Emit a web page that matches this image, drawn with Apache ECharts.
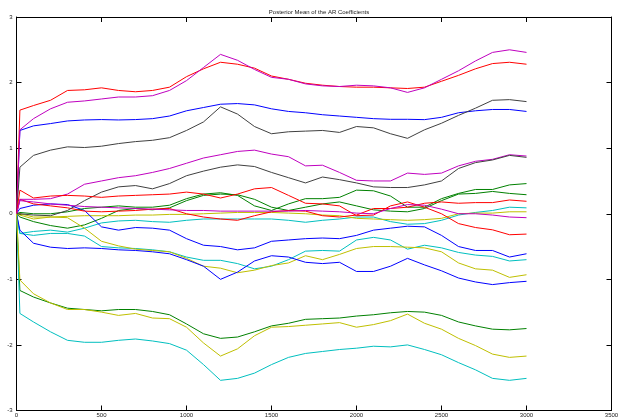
<!DOCTYPE html>
<html><head><meta charset="utf-8">
<script src="https://cdn.jsdelivr.net/npm/echarts@6/dist/echarts.min.js"></script>
<style>html,body{margin:0;padding:0;background:#fff}#c{width:620px;height:419px}</style>
</head><body><div id="c"></div>
<script>
const T = [0,20,100,200,300,400,500,600,700,800,900,1000,1100,1200,1300,1400,1500,1600,1700,1800,1900,2000,2100,2200,2300,2400,2500,2600,2700,2800,2900,3000];
const xTicks = [0,500,1000,1500,2000,2500,3000,3500];
const yTicks = [-3,-2,-1,0,1,2,3];
const title = "Posterior Mean of the AR Coefficients";

const blueTop   = [0,1.27,1.34,1.375,1.415,1.43,1.436,1.43,1.436,1.45,1.49,1.57,1.62,1.67,1.68,1.66,1.60,1.56,1.54,1.51,1.49,1.47,1.45,1.44,1.44,1.435,1.47,1.54,1.57,1.59,1.59,1.56];
const greenA    = [0,-0.05,-0.12,-0.18,-0.22,-0.17,-0.07,0.05,0.08,0.06,0.09,0.20,0.28,0.30,0.29,0.22,0.10,0.05,0.10,0.15,0.18,0.12,0.06,0.04,0.03,0.08,0.20,0.30,0.31,0.34,0.31,0.29];
const redTop    = [0,1.58,1.65,1.73,1.88,1.89,1.92,1.88,1.86,1.88,1.93,2.09,2.21,2.31,2.28,2.22,2.10,2.05,1.99,1.96,1.94,1.93,1.93,1.92,1.91,1.93,2.02,2.11,2.21,2.29,2.31,2.28];
const cyanTop   = [0,-0.30,-0.27,-0.25,-0.28,-0.22,-0.14,-0.11,-0.10,-0.12,-0.13,-0.10,-0.08,-0.08,-0.08,-0.08,-0.08,-0.10,-0.13,-0.10,-0.08,-0.05,-0.05,-0.12,-0.16,-0.15,-0.10,-0.02,0.02,0.05,0.10,0.09];
const magTop    = [0,1.28,1.45,1.60,1.70,1.72,1.75,1.78,1.78,1.80,1.88,2.03,2.23,2.43,2.34,2.20,2.08,2.05,1.98,1.95,1.94,1.96,1.95,1.92,1.85,1.92,2.05,2.18,2.33,2.46,2.50,2.46];
const yelTop    = [0,0.0,-0.05,-0.05,-0.04,-0.03,-0.03,-0.03,-0.02,-0.02,-0.01,-0.01,0.0,0.01,0.02,0.02,0.02,0.01,0.0,-0.02,-0.03,-0.07,-0.08,-0.09,-0.10,-0.09,-0.07,0.0,0.01,0.01,0.03,0.03];
const blackTop  = [0,0.71,0.89,0.97,1.02,1.01,1.03,1.07,1.10,1.12,1.16,1.27,1.40,1.63,1.52,1.33,1.22,1.25,1.26,1.27,1.24,1.33,1.31,1.22,1.15,1.28,1.38,1.50,1.61,1.73,1.74,1.71];
const blueMid   = [0,0.08,0.13,0.15,0.14,0.05,-0.20,-0.25,-0.21,-0.22,-0.25,-0.38,-0.48,-0.50,-0.55,-0.52,-0.42,-0.40,-0.38,-0.37,-0.38,-0.33,-0.25,-0.22,-0.19,-0.20,-0.33,-0.50,-0.56,-0.56,-0.66,-0.61];
const greenB    = [0,0.02,0.0,0.0,0.03,0.08,0.10,0.12,0.10,0.10,0.13,0.23,0.30,0.32,0.28,0.12,0.05,0.15,0.23,0.23,0.25,0.36,0.35,0.27,0.10,0.10,0.23,0.31,0.37,0.37,0.44,0.46];
const redMid    = [0,0.22,0.15,0.12,0.09,0.04,0.03,0.04,0.05,0.07,0.08,0.0,-0.05,-0.08,-0.10,-0.03,0.03,0.05,0.04,-0.03,-0.05,-0.02,0.08,0.08,0.10,0.16,0.18,0.16,0.17,0.17,0.21,0.19];
const cyanMid   = [0,-0.30,-0.33,-0.30,-0.30,-0.34,-0.50,-0.52,-0.53,-0.55,-0.58,-0.66,-0.71,-0.71,-0.76,-0.84,-0.80,-0.70,-0.57,-0.56,-0.57,-0.40,-0.36,-0.40,-0.54,-0.48,-0.52,-0.59,-0.63,-0.65,-0.72,-0.70];
const magMid    = [0,0.22,0.22,0.23,0.30,0.45,0.50,0.55,0.58,0.63,0.69,0.77,0.85,0.90,0.95,0.97,0.91,0.87,0.73,0.74,0.63,0.51,0.50,0.50,0.62,0.60,0.62,0.73,0.80,0.83,0.90,0.88];
const yelMid    = [0,-0.02,-0.08,-0.05,-0.06,-0.22,-0.42,-0.49,-0.54,-0.56,-0.58,-0.68,-0.80,-0.83,-0.90,-0.86,-0.79,-0.75,-0.64,-0.70,-0.62,-0.53,-0.50,-0.50,-0.51,-0.52,-0.58,-0.75,-0.84,-0.86,-0.97,-0.93];
const blackLow  = [0,0.0,-0.02,-0.03,0.05,0.20,0.33,0.41,0.43,0.38,0.46,0.58,0.65,0.71,0.745,0.72,0.63,0.55,0.47,0.56,0.52,0.47,0.41,0.40,0.40,0.44,0.50,0.69,0.78,0.82,0.89,0.86];
const blueLow   = [0,-0.25,-0.45,-0.51,-0.53,-0.52,-0.53,-0.55,-0.56,-0.58,-0.61,-0.70,-0.80,-1.00,-0.89,-0.72,-0.64,-0.66,-0.74,-0.76,-0.74,-0.88,-0.88,-0.80,-0.68,-0.78,-0.87,-0.98,-1.04,-1.08,-1.05,-1.03];
const greenLow  = [0,-1.17,-1.27,-1.36,-1.44,-1.46,-1.48,-1.46,-1.46,-1.49,-1.54,-1.68,-1.83,-1.90,-1.88,-1.80,-1.71,-1.67,-1.61,-1.60,-1.59,-1.56,-1.54,-1.51,-1.49,-1.50,-1.55,-1.65,-1.71,-1.76,-1.77,-1.75];
const redLow    = [0,0.36,0.24,0.27,0.28,0.27,0.25,0.27,0.28,0.29,0.30,0.33,0.30,0.24,0.30,0.38,0.40,0.28,0.16,0.15,0.12,-0.03,-0.02,0.12,0.18,0.10,0.0,-0.15,-0.21,-0.245,-0.32,-0.31];
const cyanLow   = [0,-1.52,-1.65,-1.80,-1.93,-1.96,-1.96,-1.93,-1.91,-1.94,-1.98,-2.08,-2.30,-2.54,-2.51,-2.43,-2.30,-2.19,-2.13,-2.10,-2.07,-2.05,-2.02,-2.03,-2.00,-2.07,-2.15,-2.27,-2.38,-2.51,-2.54,-2.51];
const magLow    = [0,0.20,0.18,0.15,0.13,0.11,0.10,0.09,0.08,0.07,0.06,0.05,0.05,0.04,0.04,0.04,0.04,0.04,0.05,0.04,0.03,0.01,0.0,0.08,0.14,0.13,0.07,0.0,0.0,-0.02,-0.05,-0.06];
const yelLow    = [0,-1.01,-1.22,-1.36,-1.46,-1.46,-1.50,-1.55,-1.52,-1.59,-1.60,-1.73,-1.97,-2.17,-2.06,-1.86,-1.73,-1.72,-1.70,-1.68,-1.66,-1.73,-1.69,-1.63,-1.53,-1.67,-1.76,-1.90,-2.01,-2.14,-2.19,-2.17];

const C = {b:'#0000ff', g:'#008000', r:'#ff0000', c:'#00bfbf', m:'#bf00bf', y:'#bfbf00', k:'#404040'};
const lines = [
  [blueTop,'b'],[greenA,'g'],[redTop,'r'],[cyanTop,'c'],[magTop,'m'],[yelTop,'y'],[blackTop,'k'],
  [blueMid,'b'],[greenB,'g'],[redMid,'r'],[cyanMid,'c'],[magMid,'m'],[yelMid,'y'],[blackLow,'k'],
  [blueLow,'b'],[greenLow,'g'],[redLow,'r'],[cyanLow,'c'],[magLow,'m'],[yelLow,'y']
];

const chart = echarts.init(document.getElementById('c'), null, {renderer:'canvas'});
const labelStyle = {fontFamily:'Liberation Sans, Arial, sans-serif', fontSize:6, color:'#222', formatter:(v)=>String(v)};
const axisLine = {show:true, onZero:false, lineStyle:{color:'#000', width:1}};
const tick = {show:true, inside:true, length:5, lineStyle:{color:'#000'}};
chart.setOption({
  animation:false,
  backgroundColor:'#fff',
  title:{text:title, left:314, top:4, textAlign:'center',
    textStyle:{fontFamily:'Liberation Sans, Arial, sans-serif', fontSize:6, fontWeight:'normal', color:'#222'}},
  grid:{left:16.5, right:8.5, top:17, bottom:8.5, containLabel:false, outerBoundsMode:'none'},
  xAxis:[
    {type:'value', min:xTicks[0], max:xTicks[xTicks.length-1], interval:500, position:'bottom',
      axisLine:axisLine, axisTick:tick, axisLabel:{...labelStyle, margin:2}, splitLine:{show:false}},
    {type:'value', min:xTicks[0], max:xTicks[xTicks.length-1], interval:500, position:'top',
      axisLine:axisLine, axisTick:tick, axisLabel:{show:false}, splitLine:{show:false}}
  ],
  yAxis:[
    {type:'value', min:yTicks[0], max:yTicks[yTicks.length-1], interval:1, position:'left',
      axisLine:axisLine, axisTick:tick, axisLabel:{...labelStyle, margin:4}, splitLine:{show:false}},
    {type:'value', min:yTicks[0], max:yTicks[yTicks.length-1], interval:1, position:'right',
      axisLine:axisLine, axisTick:tick, axisLabel:{show:false}, splitLine:{show:false}}
  ],
  series: lines.map(([vals,c]) => ({
    type:'line', xAxisIndex:0, yAxisIndex:0, showSymbol:false, symbol:'none',
    lineStyle:{color:C[c], width:1}, itemStyle:{color:C[c]},
    data: T.map((t,i)=>[t, vals[i]])
  }))
});
</script></body></html>
